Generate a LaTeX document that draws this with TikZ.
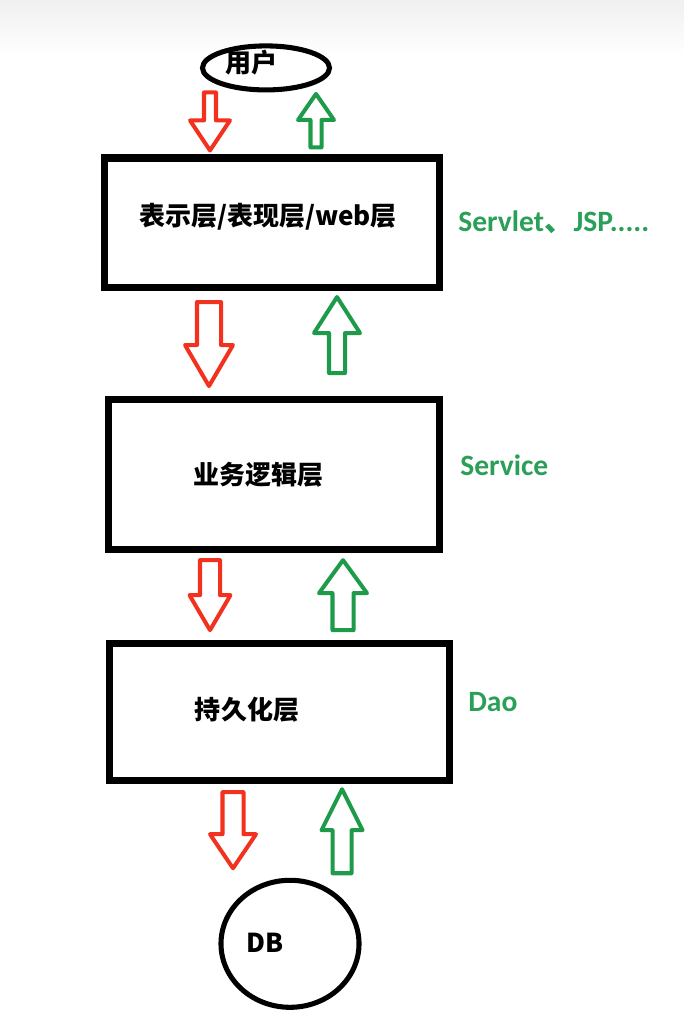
\documentclass[tikz,border=0pt]{standalone}
\usepackage{fontspec}
\newfontfamily\cjk{Noto Sans CJK SC}
\newfontfamily\lat{Carlito}
\usepackage{tikz}
\usetikzlibrary{positioning,calc,shapes.geometric}
\definecolor{crojo}{HTML}{F2311E}
\definecolor{cverde}{HTML}{1E9B4A}
\definecolor{cetq}{HTML}{2A9F58}
\newcommand{\px}{0.7113pt}
\tikzset{
  capa/.style={rectangle, draw=black, line width=5pt, inner sep=0pt},
  elip/.style={ellipse, draw=black, line width=3.6pt, inner sep=0pt},
  texto/.style={font=\cjk\bfseries\fontsize{18.5}{22}\selectfont, inner sep=0pt},
  etq/.style={font=\lat\bfseries\fontsize{21}{25}\selectfont, text=cetq, inner sep=0pt},
  bloque/.style n args={3}{line width=2.85pt, line join=round,
    to path={let \p1=(\tikztostart), \p2=(\tikztotarget),
      \n1={#3*((\y1>\y2) ? 1 : -1)} in
      ({\x1-#1*\px},\y1) -- ({\x1+#1*\px},\y1) -- ({\x1+#1*\px},{\y2+(\n1)*\px})
      -- ({\x1+#2*\px},{\y2+(\n1)*\px}) -- (\x1,\y2) -- ({\x1-#2*\px},{\y2+(\n1)*\px})
      -- ({\x1-#1*\px},{\y2+(\n1)*\px}) -- cycle}},
  bajar/.style={draw=crojo},
  subir/.style={draw=cverde},
}

\begin{document}
\begin{tikzpicture}[x=0.025cm, y=-0.025cm]
  \useasboundingbox (0,0) rectangle (684,1033);
  \shade[top color=black!6, bottom color=white] (0,0) rectangle (684,55);

  % capas
  \node[capa, minimum width=8.35cm, minimum height=3.225cm,
    label={[texto, xshift=-2.8pt, yshift=3.9pt]center:表示层/表现层/web层}] (pres) at (272,222.5) {};
  \node[elip, minimum width=3.175cm, minimum height=1.1cm, above=1.55cm of pres, xshift=-0.15cm,
    label={[texto, xshift=-10pt, yshift=3.6pt]center:用户}] (user) {};
  \node[capa, minimum width=8.25cm, minimum height=3.75cm, below=2.625cm of pres, xshift=0.05cm,
    label={[texto, xshift=-10.7pt, yshift=-0.7pt]center:业务逻辑层}] (biz) {};
  \node[capa, minimum width=8.475cm, minimum height=3.425cm, below=2.175cm of biz, xshift=0.1375cm,
    label={[texto, xshift=-23.1pt, yshift=1.1pt]center:持久化层}] (dao) {};
  \node[elip, minimum width=3.45cm, minimum height=3.175cm, below=2.35cm of dao, xshift=0.2625cm,
    label={[texto, xshift=-17.8pt, yshift=1pt]center:DB}] (db) {};

  \node[etq, anchor=west, right=11pt of pres] (tweb) {Servlet{\cjk 、}JSP.....};
  \node[etq, anchor=west, right=12.4pt of biz, yshift=6.4pt] (tsrv) {Service};
  \node[etq, anchor=west, right=11pt of dao, yshift=6.8pt] (tdao) {Dao};

  % extremos de las flechas
  \coordinate (r1a) at ($(user.south)+(-56,0)$);   \coordinate (r1b) at ($(r1a |- pres.north)+(0,-4)$);
  \coordinate (g1a) at ($(pres.north)+(44,-7)$);   \coordinate (g1b) at ($(g1a |- user.south)+(0,1.5)$);
  \coordinate (r2a) at ($(pres.south)+(-63,11.5)$); \coordinate (r2b) at ($(r2a |- biz.north)+(0,-9.5)$);
  \coordinate (g2a) at ($(biz.north)+(63,-22.5)$); \coordinate (g2b) at ($(g2a |- pres.south)+(0,6.5)$);
  \coordinate (r3a) at ($(biz.south)+(-64,7.5)$);  \coordinate (r3b) at ($(r3a |- dao.north)+(0,-9.5)$);
  \coordinate (g3a) at ($(dao.north)+(63.5,-9.5)$); \coordinate (g3b) at ($(g3a |- biz.south)+(0,7.5)$);
  \coordinate (r4a) at ($(dao.south)+(-46.5,8.5)$); \coordinate (r4b) at ($(r4a |- db.north)+(0,-9.5)$);
  \coordinate (g4a) at ($(db.north)+(52,-4.5)$);   \coordinate (g4b) at ($(g4a |- dao.south)+(0,5.5)$);

  \draw[bajar, bloque={6}{20}{30}] (r1a) to (r1b);
  \draw[subir, bloque={5.5}{18}{26}] (g1a) to (g1b);
  \draw[bajar, bloque={12}{24}{41}] (r2a) to (r2b);
  \draw[subir, bloque={8}{23}{36}] (g2a) to (g2b);
  \draw[bajar, bloque={10}{20.5}{35}] (r3a) to (r3b);
  \draw[subir, bloque={10.5}{24}{33}] (g3a) to (g3b);
  \draw[bajar, bloque={10.5}{23}{34}] (r4a) to (r4b);
  \draw[subir, bloque={9.5}{20.5}{41}] (g4a) to (g4b);
\end{tikzpicture}
\end{document}
